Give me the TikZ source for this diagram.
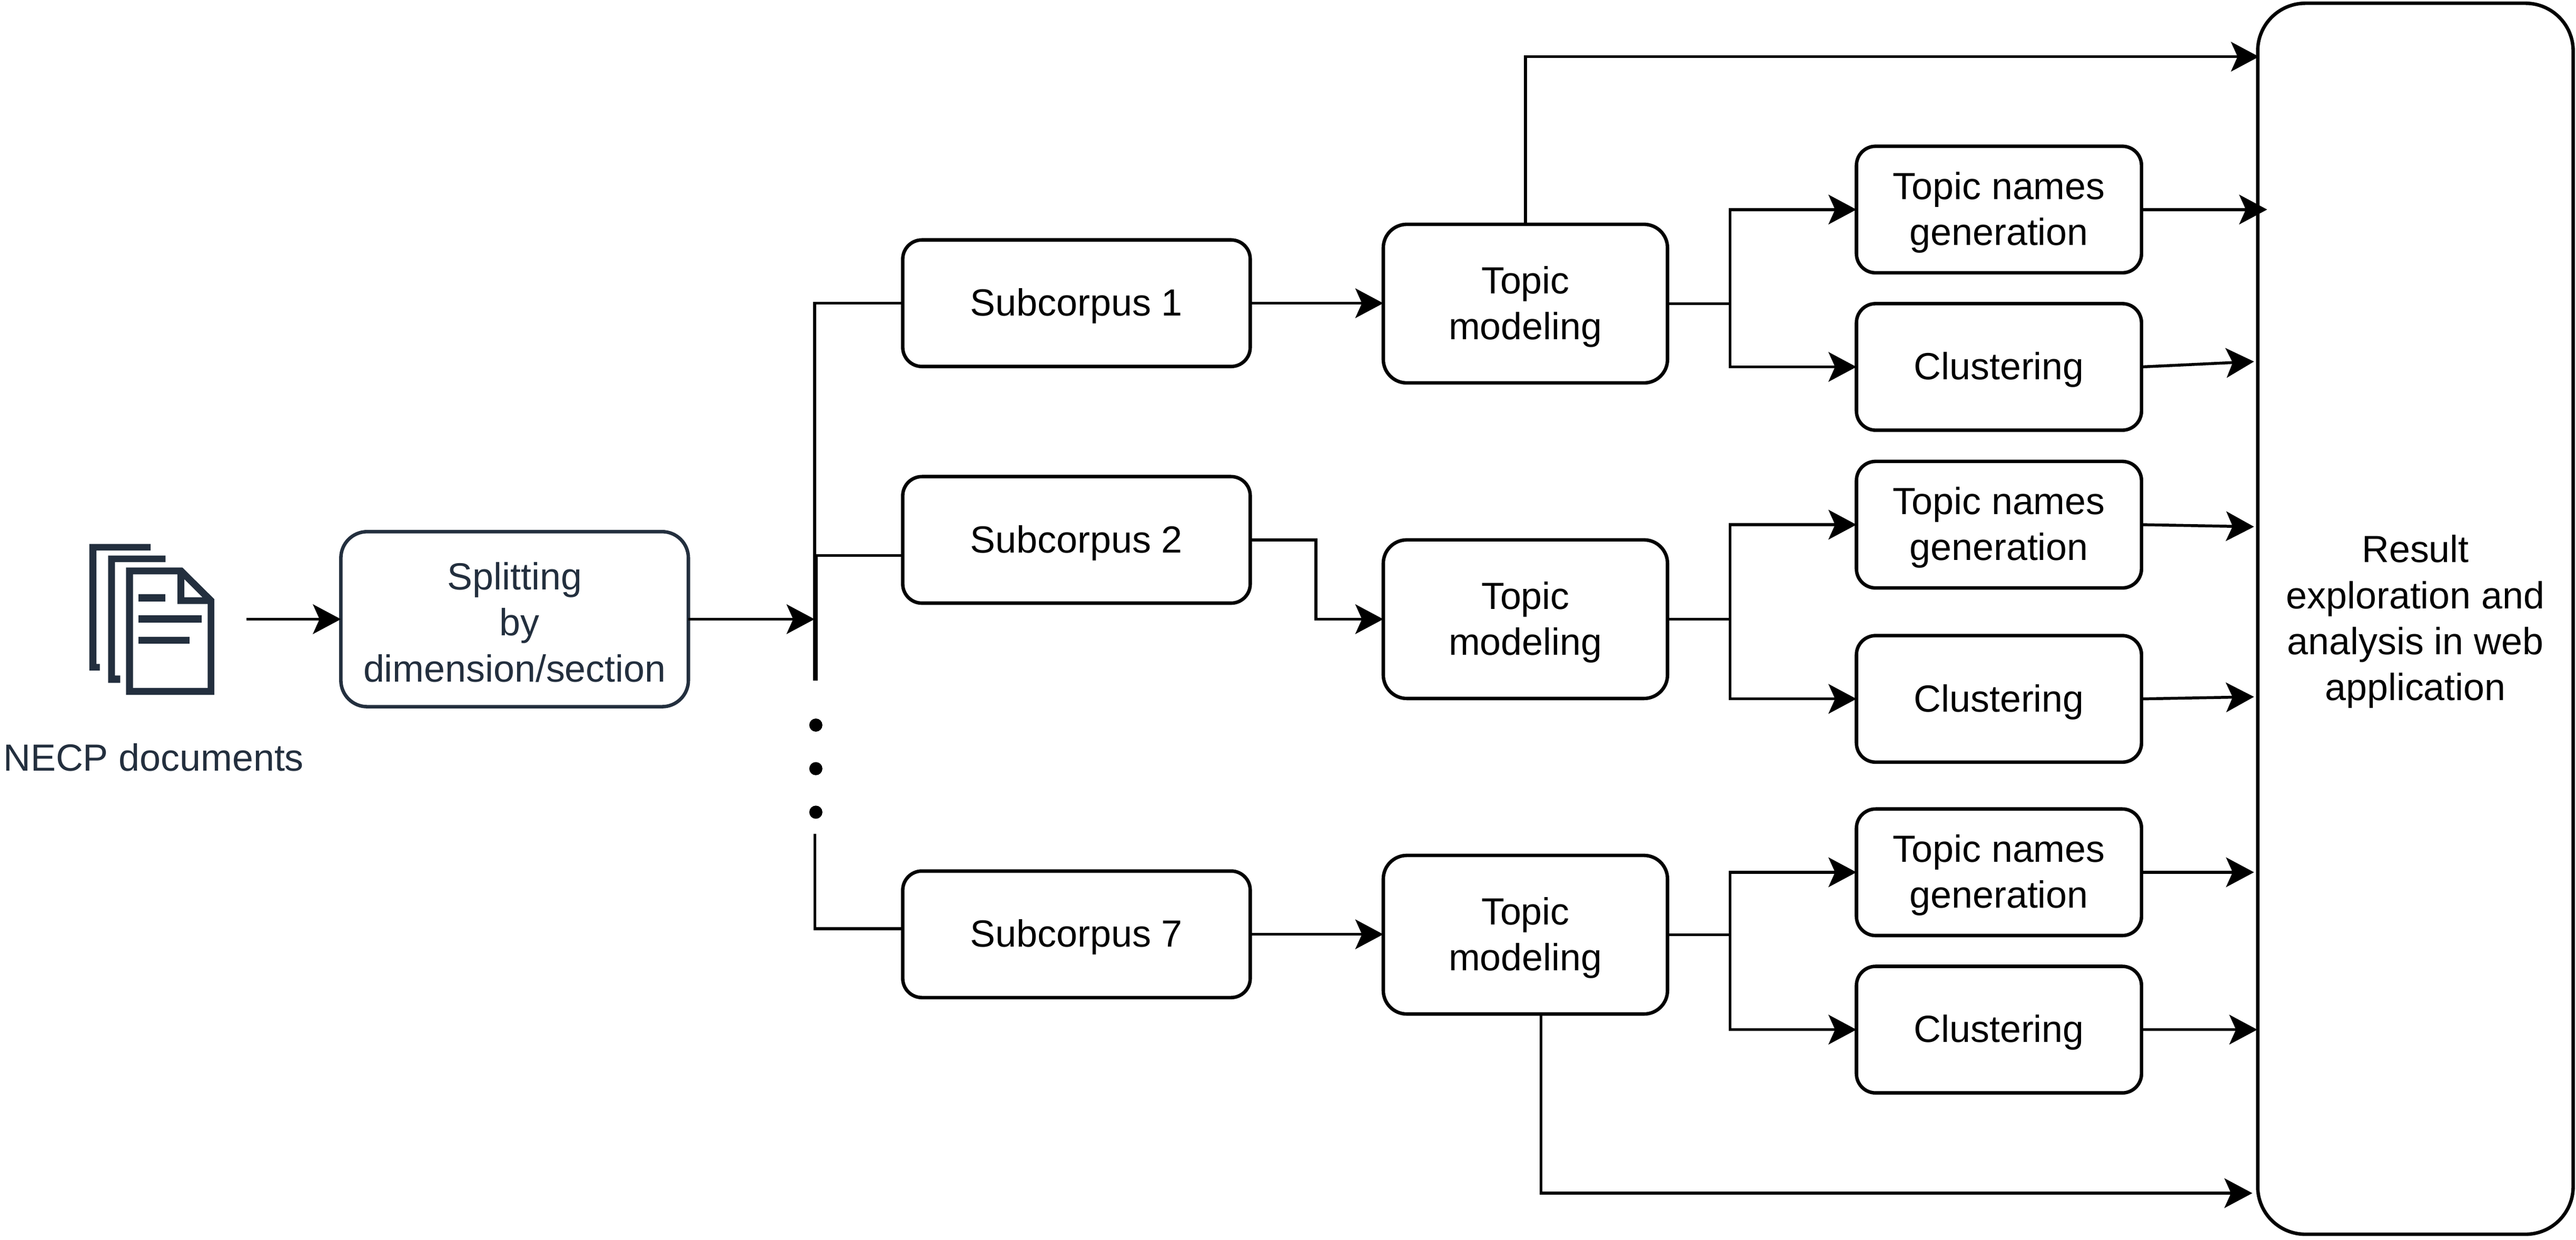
\documentclass[tikz,border=0pt]{standalone}
\usepackage{fontspec}
\setmainfont{Liberation Sans}
\usetikzlibrary{arrows.meta}
\definecolor{awsdark}{HTML}{232F3E}
\newcommand{\lowerst}{\rule{0pt}{0.61cm}}
\tikzset{
  x=0.03cm,y=-0.03cm,
  basebox/.style={draw=black,fill=white,line width=1.8pt,rounded corners=0.35cm,align=center,inner sep=0pt,outer sep=0pt,
    font=\fontsize{19.64}{23.9}\selectfont,text=black},
  subbox/.style={basebox,minimum width=6.345cm,minimum height=2.31cm},
  topicbox/.style={basebox,minimum width=5.19cm,minimum height=2.895cm,rounded corners=0.43cm},
  leafbox/.style={basebox,minimum width=5.205cm,minimum height=2.31cm},
  splitbox/.style={basebox,draw=awsdark,text=awsdark,minimum width=6.345cm,minimum height=3.195cm,rounded corners=0.48cm},
  resultbox/.style={basebox,minimum width=5.76cm,minimum height=22.47cm,rounded corners=0.87cm},
  doclabel/.style={text=awsdark,inner sep=0pt,font=\fontsize{19.64}{23.9}\selectfont},
  conn/.style={draw=black,line width=1.5pt},
  arr/.style={conn,-{Stealth[length=0.51cm,width=0.54cm,inset=0.12cm]}},
  dotmark/.style={circle,fill=black,inner sep=0pt,minimum size=0.24cm},
  iconfill/.style={fill=awsdark,draw=none},
}
\begin{document}
\begin{tikzpicture}
\useasboundingbox (0,0) rectangle (1568,754.2);
% icon
\fill[iconfill] (54.4,331) -- (91.6,331) -- (91.6,335) -- (58.7,335) -- (58.7,404) -- (60.8,404) -- (60.8,408) -- (54.4,408) -- cycle;
\fill[iconfill] (65.8,338) -- (100.8,338) -- (100.8,342) -- (70,342) -- (70,411) -- (73.2,411) -- (73.2,415.5) -- (65.8,415.5) -- cycle;
\fill[iconfill,even odd rule]
  (76.7,345.3) -- (111,345.3) -- (130.4,364.5) -- (130.4,422.8) -- (76.7,422.8) -- cycle
  (81,349.5) -- (108,349.5) -- (108,367.5) -- (126.4,367.5) -- (126.4,418.6) -- (81,418.6) -- cycle
  (112.2,352.4) -- (123.2,363.4) -- (112.2,363.4) -- cycle;
\fill[iconfill] (84.4,361.7) rectangle (100.8,366);
\fill[iconfill] (84.4,374.4) rectangle (122.8,378.7);
\fill[iconfill] (84.4,387.4) rectangle (115.3,391.8);
\node[doclabel] (necp) at (93.5,461) {NECP documents};
% boxes
\node[splitbox] (split) at (313.25,376.75) {\lowerst Splitting\\\hspace*{0.18cm}by\\dimension/section};
\node[subbox] (sub1) at (655.25,184.5) {\lowerst Subcorpus 1};
\node[subbox] (sub2) at (655.25,328.5) {\lowerst Subcorpus 2};
\node[subbox] (sub7) at (655.25,568.5) {\lowerst Subcorpus 7};
\node[topicbox] (top1) at (928.5,184.75) {\lowerst Topic\\modeling};
\node[topicbox] (top2) at (928.5,376.75) {\lowerst Topic\\modeling};
\node[topicbox] (top7) at (928.5,568.75) {\lowerst Topic\\modeling};
\node[leafbox] (name1) at (1216.75,127.5) {\lowerst Topic names\\generation};
\node[leafbox] (clu1) at (1216.75,223.25) {\lowerst Clustering};
\node[leafbox] (name2) at (1216.75,319.25) {\lowerst Topic names\\generation};
\node[leafbox] (clu2) at (1216.75,425.25) {\lowerst Clustering};
\node[leafbox] (name7) at (1216.75,530.75) {\lowerst Topic names\\generation};
\node[leafbox] (clu7) at (1216.75,626.5) {\lowerst Clustering};
\node[resultbox] (result) at (1470.25,376.5) {\lowerst Result\\exploration and\\analysis in web\\application};
% coordinates
\coordinate (docout) at (150,376.75);
\coordinate (bustop) at (495.8,184.5);
\coordinate (busjoin) at (495.8,376.75);
\coordinate (buslow) at (495.8,414);
\coordinate (bus2low) at (496.9,414);
\coordinate (bus2) at (496.9,338);
\coordinate (busb) at (496,507.5);
\coordinate (busbot) at (496,565);
\coordinate (sub2west) at (549.5,338);
\coordinate (sub7west) at (549.5,565);
\coordinate (r0) at (1375,34.5);
\coordinate (r1) at (1380,127.5);
\coordinate (r2) at (1372,220);
\coordinate (r3) at (1372,320.5);
\coordinate (r4) at (1372,424);
\coordinate (r5) at (1372,530.75);
\coordinate (r6) at (1374,626.5);
\coordinate (r7) at (1371,726);
\coordinate (t7b) at (938,617);
% connectors
\draw[arr] (docout) -- (split.west);
\draw[arr] (split.east) -- (busjoin);
\draw[conn] (sub1.west) -- (bustop) -- (buslow);
\draw[conn] (sub2west) -- (bus2) -- (bus2low);
\draw[conn] (sub7west) -- (busbot) -- (busb);
\node[dotmark] (dot1) at (496.6,441.2) {};
\node[dotmark] (dot2) at (496.6,467.7) {};
\node[dotmark] (dot3) at (496.6,494.2) {};
\draw[arr] (sub1.east) -- (sub1.east -| top1.west);
\draw[arr] (sub2.east) -| (801,376.75) -- (top2.west);
\draw[arr] (sub7.east) -- (sub7.east -| top7.west);
\draw[arr] (top1.north) |- (r0);
\draw[conn] (top1.east) -- (1053,184.75);
\draw[arr] (1053,184.75) |- (name1.west);
\draw[arr] (1053,184.75) |- (clu1.west);
\draw[conn] (top2.east) -- (1053,376.75);
\draw[arr] (1053,376.75) |- (name2.west);
\draw[arr] (1053,376.75) |- (clu2.west);
\draw[conn] (top7.east) -- (1053,568.75);
\draw[arr] (1053,568.75) |- (name7.west);
\draw[arr] (1053,568.75) |- (clu7.west);
\draw[arr] (name1.east) -- (r1);
\draw[arr] (clu1.east) -- (r2);
\draw[arr] (name2.east) -- (r3);
\draw[arr] (clu2.east) -- (r4);
\draw[arr] (name7.east) -- (r5);
\draw[arr] (clu7.east) -- (r6);
\draw[arr] (t7b) |- (r7);
\end{tikzpicture}
\end{document}
